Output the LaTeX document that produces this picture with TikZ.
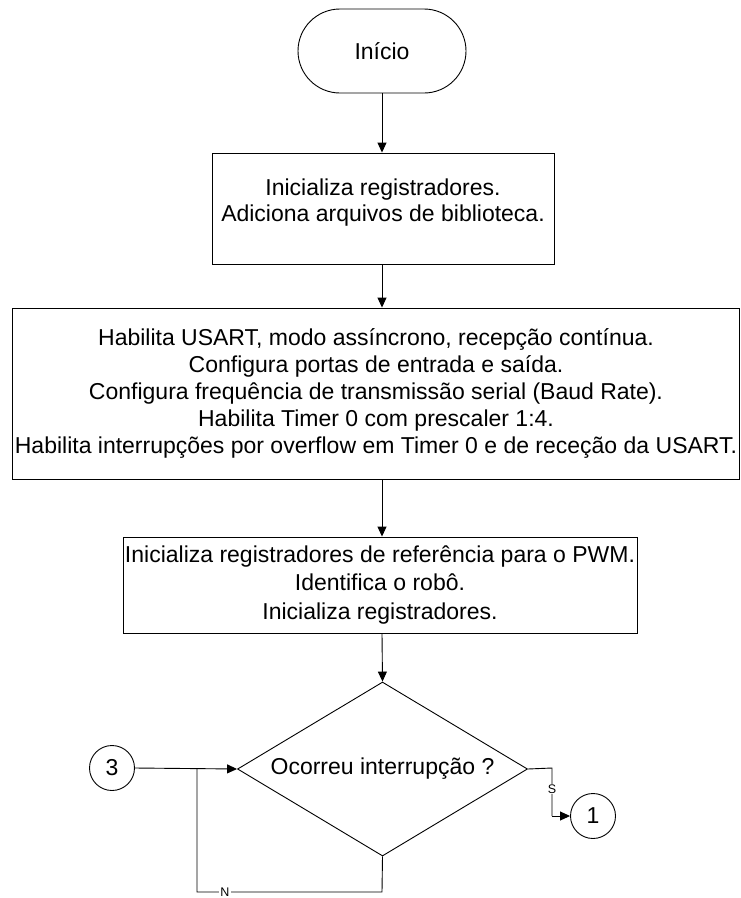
\documentclass[tikz,border=0pt]{standalone}
\usepackage{fontspec}
\setmainfont{Liberation Sans}
\usetikzlibrary{shapes.geometric,arrows.meta}
\begin{document}
\begin{tikzpicture}[x=1pt,y=-1pt,
  line width=0.9pt,
  every node/.style={font=\fontsize{23}{26}\selectfont, align=center, inner sep=0pt},
  boxnode/.style={draw, rectangle},
  txt/.style={draw=none},
  termnode/.style={draw, rectangle, rounded corners=42pt, minimum width=168pt, minimum height=84pt},
  decnode/.style={draw, diamond, aspect=1.67, minimum width=290pt, minimum height=174pt},
  connode/.style={draw, circle, minimum size=45pt},
  lbl/.style={font=\fontsize{12.5}{12.5}\selectfont, fill=white, inner sep=1pt},
  arr/.style={-{Triangle[length=10pt,width=9pt]}}
]
\useasboundingbox (0,0) rectangle (741,898);
\node[termnode] (start) at (382,51) {Início};
% box 1
\node[boxnode, minimum width=342pt, minimum height=111pt] (b1) at (383,208.5) {};
\node[txt, font=\fontsize{23}{26}\selectfont] (b1t) at (383,203) {Inicializa registradores.\\Adiciona arquivos de biblioteca.};
% box 2
\node[boxnode, minimum width=727pt, minimum height=171pt] (b2) at (375.5,393.5) {};
\node[txt, font=\fontsize{23}{27}\selectfont] (b2t) at (376,393)
  {Habilita USART, modo assíncrono, recepção contínua.\\
   Configura portas de entrada e saída.\\
   Configura frequência de transmissão serial (Baud Rate).\\
   Habilita Timer 0 com prescaler 1:4.\\
   Habilita interrupções por overflow em Timer 0 e de receção da USART.};
% box 3
\node[boxnode, minimum width=514pt, minimum height=96pt] (b3) at (380,585) {};
\node[txt, font=\fontsize{23}{28.5}\selectfont] (b3t) at (380,585)
  {Inicializa registradores de referência para o PWM.\\
   Identifica o robô.\\
   Inicializa registradores.};
% decision
\node[decnode] (dec) at (382.5,769) {Ocorreu interrupção ?};
\node[connode] (c3) at (112,768) {3};
\node[connode] (c1) at (593,816) {1};
\coordinate (j) at (197,768);
\coordinate (nb) at (382,892);
\coordinate (nl) at (197,892);
\coordinate (sr) at (552,768);
\coordinate (sd) at (552,816);

\draw[arr] (start.south) -- (start.south |- b1.north);
\draw[arr] (start.south |- b1.south) -- (start.south |- b2.north);
\draw[arr] (start.south |- b2.south) -- (start.south |- b3.north);
\draw[arr] (start.south |- b3.south) -- (dec.north);
\draw[arr] (c3.east) -- (dec.west);
\draw (dec.south) -- (nb) -- (nl) -- (j);
\node[lbl] (nlab) at (225,892) {N};
\draw (dec.east) -- (sr) -- (sd);
\draw[arr] (sd) -- (c1.west);
\node[lbl] (slab) at (552,789) {S};
\end{tikzpicture}
\end{document}
